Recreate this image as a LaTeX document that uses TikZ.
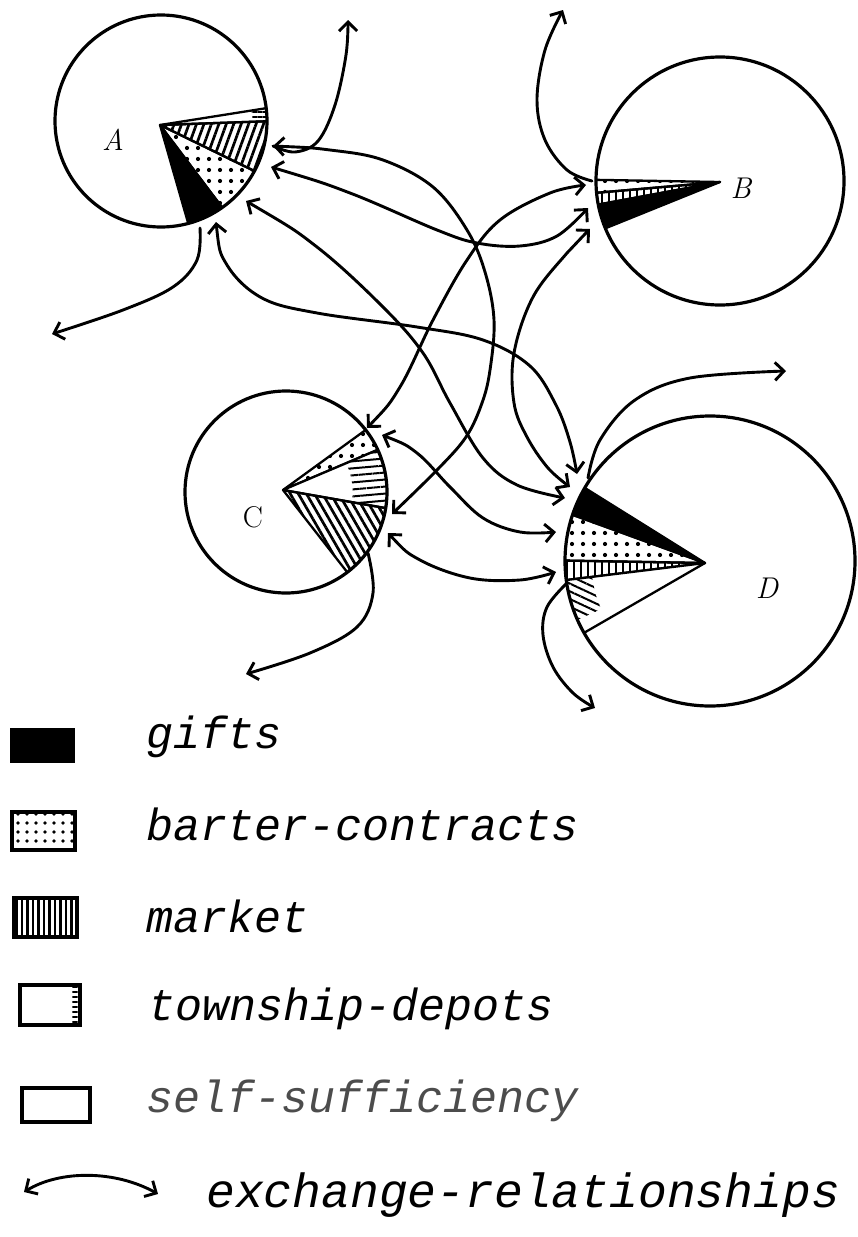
\documentclass[tikz,border=0pt]{standalone}
\usepackage{fontspec}
\newfontfamily\tw{Liberation Mono}
\usetikzlibrary{arrows.meta,patterns.meta,calc}
% sector: apex, circle centre, radius, angle1, angle2 (visual, ccw), style
\newcommand\mysect[6]{%
  \begin{scope}
    \clip (#2) circle (#3);
    \path[#6] (#1) -- ($(#1)+({-(#4)}:400)$) -- ($(#1)+({-((#4)+(#5))/2}:400)$) -- ($(#1)+({-(#5)}:400)$) -- cycle;
  \end{scope}}
% short marks near the arc inside a sector
\newcommand\mymarks[8]{%
  \begin{scope}
    \clip (#2) circle (#3);
    \clip (#1) -- ($(#1)+({-(#4)}:400)$) -- ($(#1)+({-((#4)+(#5))/2}:400)$) -- ($(#1)+({-(#5)}:400)$) -- cycle;
    \fill[pattern={Lines[angle=#6,distance=#8pt,line width=2pt]}, even odd rule] (#2) circle (#3) (#2) circle ({#7*#3});
  \end{scope}}
\begin{document}
\begin{tikzpicture}[x=1pt,y=-1pt,
  ring/.style={line width=3.2pt},
  rel/.style={line width=2.9pt, line cap=round, line join=round},
  >={Straight Barb[length=9pt,width=18pt,line width=2.9pt]},
  edge/.style={draw, line width=2.3pt, line join=round},
  gift/.style={edge, fill=black},
  barter/.style={edge, pattern={Dots[distance=11pt,radius=2.1pt]}},
  mkt/.style={edge, pattern={Lines[angle=#1,distance=7pt,line width=2.7pt]}},
  town/.style={edge, fill=white},
  lbl/.style={font=\fontsize{30}{30}\selectfont\itshape, inner sep=0pt},
  leg/.style={font=\tw\itshape\fontsize{45}{50}\selectfont, inner sep=0pt, anchor=base west},
  key/.style={line width=3.2pt}]
\useasboundingbox (0,0) rectangle (857,1237);

% ---------- centres and apexes ----------
\coordinate (cA) at (161,121); \coordinate (pA) at (160,125);
\coordinate (cB) at (720,181); \coordinate (pB) at (720,182);
\coordinate (cC) at (286,492); \coordinate (pC) at (283,490);
\coordinate (cD) at (710,561); \coordinate (pD) at (705,563);

% ---------- A ----------
\mysect{pA}{cA}{106}{2}{9}{town}
\mymarks{pA}{cA}{106}{2}{9}{0}{0.86}{5}
\mysect{pA}{cA}{106}{-26}{2}{mkt=70}
\mysect{pA}{cA}{106}{-53}{-26}{barter}
\mysect{pA}{cA}{106}{-74}{-53}{gift}
% ---------- B ----------
\mysect{pB}{cB}{124}{179}{185}{barter}
\mysect{pB}{cB}{124}{185}{190.5}{mkt=90}
\mysect{pB}{cB}{124}{190.5}{202}{gift}
% ---------- C ----------
\mysect{pC}{cC}{101}{23}{36}{barter}
\mysect{pC}{cC}{101}{-10}{23}{town}
\mymarks{pC}{cC}{101}{-10}{23}{5}{0.66}{7}
\mysect{pC}{cC}{101}{-52}{-10}{mkt=-60}
% ---------- D ----------
\mysect{pD}{cD}{145}{148}{160}{gift}
\mysect{pD}{cD}{145}{160}{179}{barter}
\mysect{pD}{cD}{145}{179}{187}{mkt=90}
\mysect{pD}{cD}{145}{187}{210}{town}
\mymarks{pD}{cD}{145}{187}{204}{-25}{0.82}{7}

% ---------- circles ----------
\draw[ring] (cA) circle (106);
\draw[ring] (cB) circle (124);
\draw[ring] (cC) circle (101);
\draw[ring] (cD) circle (145);

\node[lbl] (lA) at (113,140) {A};
\node[lbl] (lB) at (741,188) {B};
\node[lbl, font=\fontsize{30}{30}\selectfont] (lC) at (253,517) {C};
\node[lbl] (lD) at (767,588) {D};

% ---------- connector ends ----------
\coordinate (A1) at (273,146);
\coordinate (A2) at (271,167);
\coordinate (A3) at (246,201);
\coordinate (A4) at (216,222);
\coordinate (A5) at (200,228);
\coordinate (Aup) at (348,20);
\coordinate (All) at (52,334);
\coordinate (B0) at (592,181);
\coordinate (B1) at (586,185);
\coordinate (B2) at (588,208);
\coordinate (B3) at (590,229);
\coordinate (Bup) at (563,10);
\coordinate (C1) at (367,428);
\coordinate (C2) at (382,435);
\coordinate (C3) at (392,514);
\coordinate (C4) at (388,533);
\coordinate (C5) at (368,553);
\coordinate (Cll) at (246,674);
\coordinate (D1) at (577,474);
\coordinate (D2) at (570,487);
\coordinate (D3) at (565,498);
\coordinate (D4) at (556,532);
\coordinate (D5) at (556,572);
\coordinate (D6) at (588,478);
\coordinate (D7) at (567,583);
\coordinate (Dur) at (786,371);
\coordinate (Ddn) at (595,708);

% ---------- exchange relationships ----------
\draw[rel,->] plot[smooth,tension=0.6] coordinates {(A1) (295,152) (318,141) (335,105) (346,55) (Aup)};
\draw[rel,->] plot[smooth,tension=0.6] coordinates {(A5) (197,260) (173,287) (123,310) (All)};
\draw[rel,<->] plot[smooth,tension=0.6] coordinates {(A1) (330,150) (383,160) (433,187) (467,230) (485,272) (494,320) (490,370) (482,403) (466,437) (437,470) (C3)};
\draw[rel,<->] plot[smooth,tension=0.6] coordinates {(A2) (350,193) (437,230) (477,243) (520,246) (557,236) (B2)};
\draw[rel,<->] plot[smooth,tension=0.6] coordinates {(A3) (317,247) (383,307) (423,353) (450,403) (483,458) (517,485) (D3)};
\draw[rel,<->] plot[smooth,tension=0.6] coordinates {(A4) (227,265) (262,298) (317,313) (417,327) (483,340) (530,366) (556,405) (570,442) (D1)};
\draw[rel,->] plot[smooth,tension=0.6] coordinates {(B0) (567,170) (545,140) (537,100) (545,50) (Bup)};
\draw[rel,<->] plot[smooth,tension=0.6] coordinates {(C1) (400,387) (433,320) (467,260) (500,220) (550,193) (B1)};
\draw[rel,<->] plot[smooth,tension=0.6] coordinates {(B3) (567,253) (533,297) (514,353) (514,403) (527,437) (548,468) (D2)};
\draw[rel,<->] plot[smooth,tension=0.6] coordinates {(C2) (417,453) (450,487) (483,518) (520,532) (D4)};
\draw[rel,<->] plot[smooth,tension=0.6] coordinates {(C4) (420,560) (470,578) (520,580) (D5)};
\draw[rel,->] plot[smooth,tension=0.6] coordinates {(C5) (373,593) (357,627) (310,653) (Cll)};
\draw[rel,->] plot[smooth,tension=0.6] coordinates {(D6) (600,440) (635,400) (690,378) (Dur)};
\draw[rel,->] plot[smooth,tension=0.6] coordinates {(D7) (547,607) (543,635) (553,667) (573,693) (Ddn)};

% ---------- legend ----------
\fill[key] (10,728) rectangle (75,763);
\draw[key, pattern={Dots[distance=9pt,radius=1.8pt]}] (12,812) rectangle (75,850);
\draw[key, pattern={Lines[angle=90,distance=5.5pt,line width=2.2pt]}] (14,898) rectangle (77,937);
\draw[key] (20,985) rectangle (80,1025);
\fill[pattern={Lines[angle=0,distance=5pt,line width=1.8pt]}] (72,987) rectangle (79,1023);
\draw[key] (22,1088) rectangle (90,1122);
\coordinate (L1) at (24,1192);
\coordinate (L2) at (158,1194);
\draw[rel,<->] (L1) .. controls (60,1170) and (115,1170) .. (L2);

\node[leg] (t1) at (146,748) {gifts};
\node[leg] (t2) at (146,840) {barter-contracts};
\node[leg] (t3) at (146,932) {market};
\node[leg] (t4) at (148,1020) {township-depots};
\node[leg, text=black!70] (t5) at (146,1112) {self-sufficiency};
\node[leg, font=\tw\itshape\fontsize{48}{52}\selectfont] (t6) at (206,1207) {exchange-relationships};
\end{tikzpicture}
\end{document}
